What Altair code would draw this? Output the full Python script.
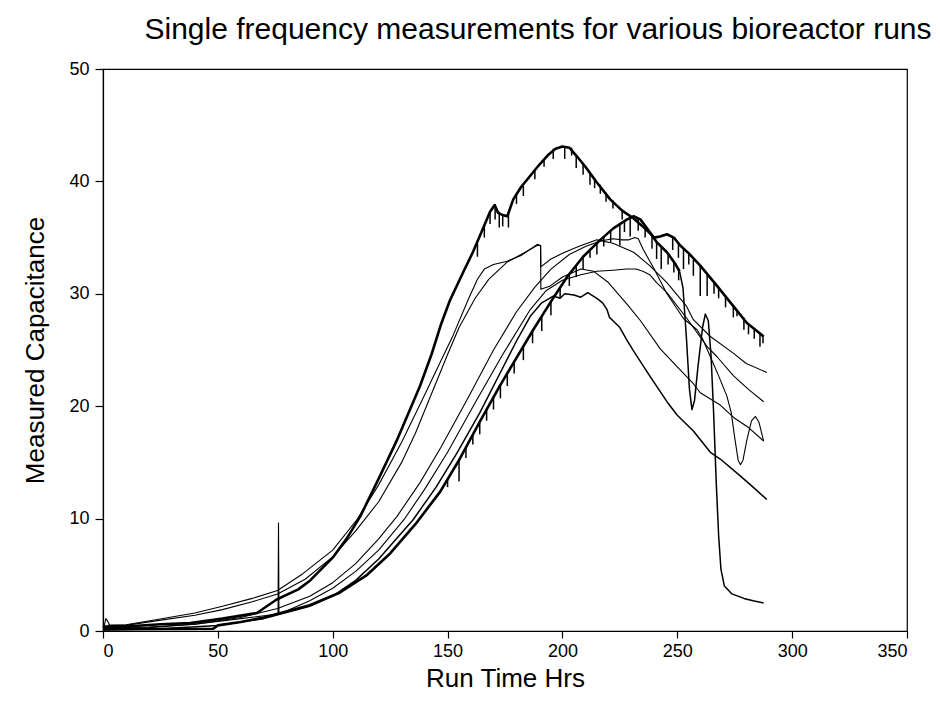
import altair as alt
import pandas as pd

# ---------------- data ----------------
A_x = [0, 1, 10, 25, 38, 52, 67, 75.6, 85, 90.2, 100.3, 106, 112, 120.6, 128, 138, 143, 147, 151, 157, 161, 165,
       168.5, 170.5, 172, 174, 176, 178.6, 182, 186, 190, 194, 197, 200, 203, 206, 210, 215, 220.8, 226, 231,
       236, 240, 242.5, 245.5, 248.5, 251.3, 255, 260, 267.3, 274.4, 280.3, 287.6]
A_y = [0.3, 0.4, 0.4, 0.6, 0.7, 1.1, 1.6, 2.8, 3.7, 4.5, 6.6, 8.2, 10.2, 13.8, 17.0, 21.8, 24.6, 27.2, 29.4, 32.0,
       33.7, 35.6, 37.3, 37.9, 37.2, 37.0, 36.9, 38.4, 39.5, 40.5, 41.5, 42.4, 42.9, 43.1, 43.0, 42.3, 41.3,
       39.9, 38.4, 37.4, 36.7, 35.8, 35.0, 35.1, 35.3, 35.0, 34.3, 33.6, 32.5, 30.7, 28.9, 27.4, 26.2]

B_x = [0, 48, 50, 60, 70, 81, 90, 103, 115, 125, 136, 146.8, 154.7, 164, 173, 180, 187.3, 195, 202, 209, 216.5,
       222, 228, 231, 234, 238, 241, 245.5, 249, 251]
B_y = [0.15, 0.2, 0.5, 0.8, 1.2, 1.8, 2.3, 3.4, 5.0, 6.9, 9.5, 12.4, 15.1, 18.6, 21.9, 24.3, 26.8, 29.3, 31.5,
       33.3, 34.8, 35.8, 36.6, 36.9, 36.6, 35.5, 34.6, 33.7, 32.7, 32.0]

# continuation of run B after the probe started to fail (drawn lighter)
Btail_x = [251, 252.5, 254, 255.3, 256.4, 257.5, 259, 261, 262.2, 263.5, 264.7, 265.8, 267, 268, 269, 270.5,
           273.8, 279, 283, 287.6]
Btail_y = [32.0, 30.5, 26.0, 21.5, 19.7, 20.5, 23.5, 27.0, 28.2, 27.6, 24.5, 19.5, 13.0, 8.5, 5.5, 4.0, 3.3, 2.9,
           2.7, 2.5]

T1a_x = [2, 10, 23, 40, 52, 65, 76, 87, 100, 110.5, 120, 130, 140, 147, 152.4, 159, 163, 166, 170, 176, 182, 189,
         190.5, 190.6, 195, 200, 207, 215, 222, 231, 238, 245.5, 254, 257, 264.4, 274.5, 280, 289]
T1a_y = [0.5, 0.55, 1.0, 1.6, 2.2, 2.9, 3.6, 5.1, 7.2, 9.9, 13.0, 16.8, 21.0, 24.0, 26.3, 29.5, 31.3, 32.2, 32.6,
         32.9, 33.4, 34.4, 34.3, 32.4, 33.1, 33.6, 34.2, 34.8, 34.5, 33.7, 32.5, 31.0, 28.9, 27.7, 26.2, 24.7,
         23.8, 23.0]

T1b_x = [0.5, 1.2, 2, 3, 10, 23, 40, 52, 65, 76, 88, 100, 110, 120, 130, 136, 142, 150, 155, 162, 168, 175.8,
         182, 189, 190.5, 190.6, 194.7, 200, 208, 213.6, 220, 228, 234, 242.6, 250, 257, 260, 268.7, 274.5, 281,
         287.6]
T1b_y = [0.4, 1.1, 0.9, 0.5, 0.5, 0.9, 1.4, 1.9, 2.6, 3.3, 4.6, 6.6, 8.9, 11.5, 15.0, 17.6, 20.6, 24.6, 27.0, 29.6,
         31.3, 32.8, 33.5, 34.3, 34.3, 30.4, 30.7, 31.5, 32.2, 32.0, 31.0, 29.1, 27.6, 25.1, 23.5, 22.0, 21.2,
         20.1, 19.0, 18.1, 16.9]

T2_x = [0, 20, 40, 60, 76, 90, 100, 110, 120, 128, 138, 147, 158, 170, 180, 188, 195, 203, 210, 216.5, 222, 226,
        229, 231.5, 233, 235.3, 239.7, 245.5, 252.7, 258.6, 261, 264.4, 268, 271.6, 273.5, 275, 276.5, 277.5,
        278.6, 280.3, 282.3, 284, 285.5, 286.5, 287.6]
T2_y = [0.2, 0.3, 0.6, 1.2, 2.0, 3.1, 4.3, 6.0, 8.2, 10.2, 13.2, 16.3, 20.4, 25.0, 28.4, 30.6, 32.2, 33.5, 34.2,
        34.7, 34.9, 34.8, 34.8, 35.0, 34.9, 33.9, 32.3, 30.0, 27.8, 26.8, 26.0, 24.4, 22.7, 20.9, 19.4, 17.2,
        15.2, 14.8, 15.2, 17.0, 18.7, 19.1, 18.6, 17.8, 16.9]

T4_x = [0, 20, 40, 60, 76.2, 76.4, 76.6, 90, 100, 110, 120, 131, 140, 150, 162, 174, 186, 193, 200, 208, 215,
        222, 228, 232, 235, 238, 241, 245.5, 254.2, 263, 267.3, 274.5, 281, 287.6]
T4_y = [0.3, 0.35, 0.6, 1.1, 1.5, 9.6, 1.5, 2.7, 3.8, 5.3, 7.2, 9.9, 12.6, 15.9, 20.3, 24.6, 28.6, 30.3, 31.2,
        31.7, 32.0, 32.1, 32.2, 32.2, 32.0, 31.7, 31.0, 30.1, 27.8, 25.3, 24.4, 22.7, 21.5, 20.4]

T5_x = [0, 25, 50, 70, 90, 100, 110, 120, 135, 145, 154, 164, 174, 180, 186, 191, 196, 199, 201, 205, 208, 211,
        215, 217.5, 219.4, 220.5, 222, 225, 228, 231, 238, 245.5, 250, 257, 264.4, 268.7, 277.4, 283, 289]
T5_y = [0.1, 0.2, 0.5, 1.1, 2.2, 3.1, 4.5, 6.4, 9.9, 12.8, 15.8, 19.4, 23.4, 25.8, 28.0, 29.2, 29.8, 29.6, 30.0,
        29.9, 29.7, 30.1, 29.6, 29.2, 28.6, 27.9, 27.6, 27.0, 25.9, 24.9, 22.7, 20.4, 19.2, 17.8, 15.9, 15.3,
        13.8, 12.8, 11.7]

# noise spikes on the two heavy traces: x, top, bottom
spike_x = [163, 166, 168.5, 170.7, 172.5, 174, 176.5, 180, 183, 188, 192, 196, 201, 204, 206, 209, 212, 214,
           216.5, 219, 222, 226, 248, 250.5, 252.7, 255, 257, 260, 263, 266, 268, 271, 274.4, 276, 279, 281,
           283.5, 286, 287.3,
           150, 155, 158, 161, 164, 167, 170, 173, 176, 179, 183, 187, 191, 195, 199, 203, 206, 209, 212, 215,
           218, 221, 225, 227, 229.5, 233, 236, 239, 241, 243, 246, 248.5, 250.6]
spike_top = [34.5, 36.2, 37.3, 38.0, 37.3, 37.1, 37.2, 38.9, 39.6, 41.0, 42.0, 42.9, 43.1, 43.0, 42.3, 41.5, 40.8,
             40.3, 39.7, 39.0, 38.3, 37.4, 35.0, 34.5, 34.0, 33.5, 33.0, 32.5, 31.8, 31.0, 30.5, 29.7, 28.9, 28.5,
             27.9, 27.3, 26.9, 26.5, 26.3,
             13.6, 15.3, 16.3, 17.6, 18.7, 19.8, 20.9, 21.9, 23.0, 24.0, 25.4, 26.7, 28.0, 29.3, 30.6, 31.8, 32.5,
             33.3, 34.0, 34.5, 35.1, 35.6, 36.2, 36.4, 36.8, 36.7, 36.1, 35.2, 34.6, 34.2, 33.6, 32.9, 32.1]
spike_bot = [33.3, 35.0, 36.2, 36.6, 35.9, 36.0, 35.9, 38.0, 38.7, 40.2, 41.3, 42.0, 42.0, 42.3, 41.2, 40.6, 39.7,
             39.4, 38.9, 38.2, 37.6, 36.6, 33.9, 33.2, 32.2, 32.6, 31.6, 29.8, 29.8, 30.0, 29.6, 28.8, 27.9, 28.0,
             26.8, 26.4, 26.0, 25.3, 25.6,
             12.8, 13.3, 15.4, 16.6, 17.5, 18.7, 19.7, 20.7, 21.8, 22.9, 24.1, 25.6, 26.7, 28.1, 29.6, 30.7, 31.5,
             32.2, 33.2, 33.5, 34.2, 34.6, 34.3, 35.5, 35.1, 35.6, 35.0, 34.0, 33.1, 32.2, 32.6, 31.9, 31.2]

x_ticks = [0, 50, 100, 150, 200, 250, 300, 350]
y_ticks = [0, 10, 20, 30, 40, 50]

FONT = "Liberation Sans"


def frame(name, xs, ys):
    return pd.DataFrame({"run": name, "order": range(len(xs)), "t": xs, "c": ys})


heavy = pd.concat([frame("A", A_x, A_y), frame("B", B_x, B_y)])
thin = pd.concat([frame("T1a", T1a_x, T1a_y), frame("T1b", T1b_x, T1b_y),
                  frame("T2", T2_x, T2_y), frame("T4", T4_x, T4_y)])
medium = pd.concat([frame("T5", T5_x, T5_y), frame("Btail", Btail_x, Btail_y)])
spikes = pd.DataFrame({"t": spike_x, "top": spike_top, "bot": spike_bot})

xs = alt.Scale(domain=[0, 350], nice=False)
ys = alt.Scale(domain=[0, 50], nice=False)

x_axis = alt.Axis(values=x_ticks, title="Run Time Hrs", grid=False, tickSize=7, labelPadding=4,
                  titleX=402, titleY=47, titleBaseline="middle", titleAlign="center")
y_axis = alt.Axis(values=y_ticks, title="Measured Capacitance", grid=False, tickSize=8, labelPadding=6,
                  titleX=-68, titleY=281, titleAngle=-90, titleBaseline="middle", titleAlign="center")


def lines(df, width):
    return alt.Chart(df).mark_line(color="black", strokeWidth=width, strokeJoin="round").encode(
        x=alt.X("t:Q", scale=xs, axis=x_axis),
        y=alt.Y("c:Q", scale=ys, axis=y_axis),
        detail="run:N",
        order="order:Q",
    )


spike_layer = alt.Chart(spikes).mark_rule(color="black", strokeWidth=1.5).encode(
    x=alt.X("t:Q", scale=xs),
    y=alt.Y("top:Q", scale=ys),
    y2="bot:Q",
)

chart = alt.layer(
    lines(thin, 1.1), lines(medium, 1.5), lines(heavy, 2.6), spike_layer
).properties(
    width=804,
    height=562,
    autosize=alt.AutoSizeParams(type="none"),
    padding={"left": 103, "top": 69, "right": 33, "bottom": 86},
    background="white",
    title=alt.TitleParams("Single frequency measurements for various bioreactor runs", fontSize=30,
                          font=FONT, fontWeight="normal", color="black", anchor="middle", dx=33,
                          offset=-9, baseline="alphabetic"),
).configure_view(stroke="black", strokeWidth=1.2).configure_axis(
    domainColor="black", tickColor="black", labelColor="black", titleColor="black",
    labelFont=FONT, titleFont=FONT, labelFontSize=18, titleFontSize=26, titleFontWeight="normal",
    domainWidth=1.2, tickWidth=1.2,
)

chart.save("out.html", embed_options={"renderer": "svg", "actions": False})
